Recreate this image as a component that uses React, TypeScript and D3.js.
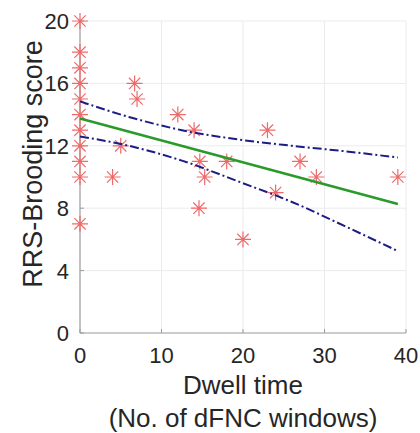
import React from "react";
import * as d3 from "d3";

const dwellX = [0, 0, 0, 0, 0, 0, 0, 0, 0, 0, 0, 4, 5, 6.7, 7, 12, 14, 14.7, 15.3, 14.6, 18, 20, 23, 24, 27, 29, 39];
const broodingY = [20, 18, 17, 16, 15, 14, 13, 12, 11, 10, 7, 10, 12, 16, 15, 14, 13, 11, 10, 8, 11, 6, 13, 9, 11, 10, 10];

const fitX = [0, 39];
const fitY = [13.75, 8.27];

const ciX = [0, 6, 12.5, 19.5, 26, 32.5, 39];
const ciUpper = [14.85, 13.85, 13.0, 12.4, 12.0, 11.65, 11.25];
const ciLower = [12.6, 12.0, 11.05, 9.7, 8.4, 6.85, 5.25];

const xTicks = [0, 10, 20, 30, 40];
const yTicks = [0, 4, 8, 12, 16, 20];

const W = 420;
const H = 433;

export default function App() {
  const x = d3.scaleLinear().domain([0, 40]).range([80, 406]);
  const y = d3.scaleLinear().domain([0, 20]).range([333, 21]);

  const fitLine = d3
    .line<number>()
    .x((_, i) => x(fitX[i]))
    .y((d) => y(d));
  const ciLine = d3
    .line<number>()
    .x((_, i) => x(ciX[i]))
    .y((d) => y(d))
    .curve(d3.curveMonotoneX);

  const r = 8;
  const k = r * 0.707;
  const star = `M${-r},0L${r},0M0,${-r}L0,${r}M${-k},${-k}L${k},${k}M${-k},${k}L${k},${-k}`;

  const font = "'Liberation Sans', Arial, Helvetica, sans-serif";

  return (
    <div style={{ position: "absolute", left: 0, top: 0 }}>
      <svg width={W} height={H} style={{ display: "block", background: "#fff" }}>
        {xTicks.filter((t) => t > 0).map((t) => (
          <line key={"gx" + t} x1={x(t)} x2={x(t)} y1={y(0)} y2={y(20)} stroke="#ebebeb" strokeWidth={1} />
        ))}
        {yTicks.filter((t) => t > 0).map((t) => (
          <line key={"gy" + t} x1={x(0)} x2={x(40)} y1={y(t)} y2={y(t)} stroke="#ebebeb" strokeWidth={1} />
        ))}
        <line x1={x(0)} x2={x(40)} y1={y(0)} y2={y(0)} stroke="#9a9a9a" strokeWidth={1.2} />
        <line x1={x(0)} x2={x(0)} y1={y(0)} y2={y(20)} stroke="#9a9a9a" strokeWidth={1.2} />
        {xTicks.map((t) => (
          <line key={"tx" + t} x1={x(t)} x2={x(t)} y1={y(0)} y2={y(0) - 4} stroke="#9a9a9a" strokeWidth={1} />
        ))}
        {yTicks.map((t) => (
          <line key={"ty" + t} x1={x(0)} x2={x(0) + 4} y1={y(t)} y2={y(t)} stroke="#9a9a9a" strokeWidth={1} />
        ))}
        {xTicks.map((t) => (
          <text key={"lx" + t} x={x(t)} y={363} textAnchor="middle" fontSize={22} fontFamily={font} fill="#262626">
            {t}
          </text>
        ))}
        {yTicks.map((t) => (
          <text key={"ly" + t} x={69} y={y(t)} dy="0.36em" textAnchor="end" fontSize={22} fontFamily={font} fill="#262626">
            {t}
          </text>
        ))}
        <text x={x(20)} y={394} textAnchor="middle" fontSize={26} fontFamily={font} fill="#262626">
          Dwell time
        </text>
        <text x={x(20)} y={427} textAnchor="middle" fontSize={26} fontFamily={font} fill="#262626">
          (No. of dFNC windows)
        </text>
        <text
          transform={`translate(42,164) rotate(-90)`}
          textAnchor="middle"
          fontSize={27}
          fontFamily={font}
          fill="#262626"
        >
          RRS-Brooding score
        </text>
        {dwellX.map((dx, i) => (
          <path
            key={"p" + i}
            d={star}
            transform={`translate(${x(dx)},${y(broodingY[i])})`}
            stroke="#ee6a6a"
            strokeWidth={1.2}
            fill="none"
          />
        ))}
        <path d={ciLine(ciUpper) || ""} fill="none" stroke="#1c1c85" strokeWidth={2} strokeDasharray="9,3,2,3" />
        <path d={ciLine(ciLower) || ""} fill="none" stroke="#1c1c85" strokeWidth={2} strokeDasharray="9,3,2,3" />
        <path d={fitLine(fitY) || ""} fill="none" stroke="#2a9a2a" strokeWidth={2.5} />
      </svg>
    </div>
  );
}
